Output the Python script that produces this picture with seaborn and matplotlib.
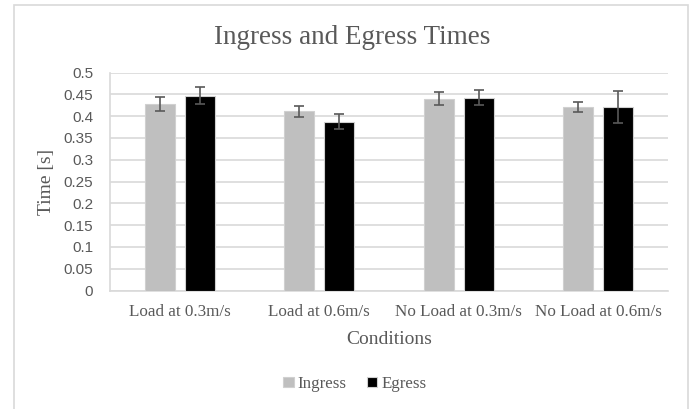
import pandas as pd
import numpy as np
import matplotlib
matplotlib.use("Agg")
import matplotlib.pyplot as plt
import seaborn as sns
from matplotlib.patches import Rectangle

# ========== DATOS ==========
conditions = ["Load at 0.3m/s", "Load at 0.6m/s", "No Load at 0.3m/s", "No Load at 0.6m/s"]
ingress = [0.427, 0.411, 0.440, 0.421]
egress = [0.447, 0.387, 0.442, 0.421]
ingress_err = [0.016, 0.013, 0.015, 0.012]
egress_err = [0.019, 0.017, 0.017, 0.037]
y_ticks = [0, 0.05, 0.1, 0.15, 0.2, 0.25, 0.3, 0.35, 0.4, 0.45, 0.5]
y_tick_labels = ["0", "0.05", "0.1", "0.15", "0.2", "0.25", "0.3", "0.35", "0.4", "0.45", "0.5"]

df = pd.DataFrame({
    "Condition": conditions * 2,
    "Series": ["Ingress"] * 4 + ["Egress"] * 4,
    "Time": ingress + egress,
    "Err": ingress_err + egress_err,
})

# ========== GRÁFICO ==========
sns.set_style("white")
plt.rcParams["font.family"] = ["Liberation Serif", "DejaVu Serif"]
txt = "#595959"

fig = plt.figure(figsize=(6.92, 4.09), dpi=100)
ax = fig.add_axes([110 / 692, 1 - 290.5 / 409, 558 / 692, (290.5 - 72.5) / 409])

sns.barplot(data=df, x="Condition", y="Time", hue="Series",
            palette={"Ingress": "#bfbfbf", "Egress": "#000000"},
            width=0.571, gap=0.25, errorbar=None, ax=ax, zorder=3,
            edgecolor="#d0d0d0", linewidth=0.8)

# barras de error sobre cada barra
for cont, errs in zip(ax.containers, [ingress_err, egress_err]):
    xs = [p.get_x() + p.get_width() / 2 for p in cont.patches]
    ys = [p.get_height() for p in cont.patches]
    ax.errorbar(xs, ys, yerr=errs, fmt="none", ecolor="#595959",
                elinewidth=1.2, capsize=3.5, capthick=1.2, zorder=4)

ax.set_ylim(0, 0.5)
ax.set_xlim(-0.5, 3.5)
ax.set_yticks(y_ticks)
ax.set_yticklabels(y_tick_labels, fontfamily="Liberation Sans", fontsize=11, color=txt)
ax.tick_params(axis="x", labelsize=12.3, colors=txt, length=0, pad=10)
ax.tick_params(axis="y", length=0, pad=12)
ax.yaxis.grid(True, color="#d9d9d9", linewidth=1.2, zorder=0)
ax.set_axisbelow(True)
for s in ["top", "right"]:
    ax.spines[s].set_visible(False)
ax.spines["left"].set_color("#d9d9d9")
ax.spines["bottom"].set_color("#d9d9d9")
ax.spines["left"].set_linewidth(1.2)
ax.spines["bottom"].set_linewidth(1.2)

ax.set_xlabel("Conditions", fontsize=14, color=txt, labelpad=8)
ax.set_ylabel("Time [s]", fontsize=14, color=txt, labelpad=6)
fig.text(352 / 692, 1 - 37 / 409, "Ingress and Egress Times", ha="center", va="center",
         fontsize=19.5, color=txt)

handles, labels = ax.get_legend_handles_labels()
ax.legend_.remove()
fig.legend(handles, labels, loc="center", bbox_to_anchor=(355 / 692, 1 - 384 / 409),
           ncol=2, frameon=False, fontsize=12.2, labelcolor=txt,
           handlelength=0.6, handleheight=0.6, handletextpad=0.25, columnspacing=1.2)

# borde del gráfico
fig.patches.append(Rectangle((14 / 692, -0.05), (688 - 14) / 692, 1.05 - 5 / 409,
                             transform=fig.transFigure, fill=False,
                             edgecolor="#d9d9d9", linewidth=1.2))

plt.savefig("out.png", dpi=100)
